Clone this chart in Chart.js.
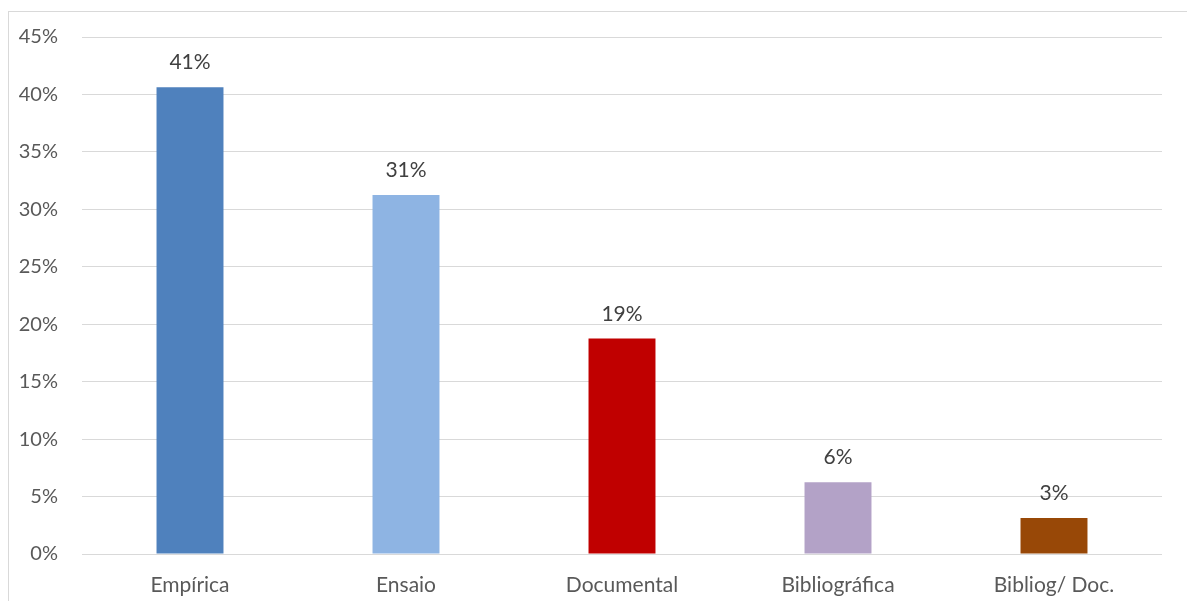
<!DOCTYPE html>
<html>
<head>
<meta charset="utf-8">
<script src="https://cdn.jsdelivr.net/npm/chart.js@4/dist/chart.umd.min.js"></script>
<style>
  html, body { margin: 0; padding: 0; background: #fff; overflow: hidden; }
  #wrap { position: relative; width: 1187px; height: 601px; }
  #frame { position: absolute; left: 8px; top: 11px; width: 1300px; height: 700px;
           border: 1px solid #d9d9d9; box-sizing: border-box; }
  canvas { position: absolute; left: 0; top: 0; }
</style>
</head>
<body>
<div id="wrap">
  <div id="frame"></div>
  <canvas id="c" width="1187" height="601"></canvas>
</div>
<script>
// Tipo de pesquisa – participação percentual
const categories = ['Empírica', 'Ensaio', 'Documental', 'Bibliográfica', 'Bibliog/ Doc.'];
const shares = [40.625, 31.25, 18.75, 6.25, 3.125];
const barColors = ['#4f81bd', '#8eb4e3', '#c00000', '#b3a2c7', '#984807'];
const yTicks = [0, 5, 10, 15, 20, 25, 30, 35, 40, 45];

const FONT = 'Lato, "Open Sans", sans-serif';
const TEXT = '#595959';

const valueLabels = {
  id: 'valueLabels',
  afterDatasetsDraw(chart) {
    const ctx = chart.ctx;
    const meta = chart.getDatasetMeta(0);
    ctx.save();
    ctx.font = '21px ' + FONT;
    ctx.fillStyle = '#404040';
    ctx.textAlign = 'center';
    ctx.textBaseline = 'alphabetic';
    meta.data.forEach((bar, i) => {
      ctx.fillText(Math.round(shares[i]) + '%', bar.x, bar.y - 18);
    });
    ctx.restore();
  }
};

new Chart(document.getElementById('c'), {
  type: 'bar',
  data: {
    labels: categories,
    datasets: [{
      data: shares,
      backgroundColor: barColors,
      borderWidth: 0,
      barPercentage: 1,
      categoryPercentage: 0.31
    }]
  },
  options: {
    responsive: false,
    animation: false,
    devicePixelRatio: 1,
    layout: { padding: { left: 0, right: 25, top: 37, bottom: 0 } },
    plugins: { legend: { display: false }, tooltip: { enabled: false } },
    scales: {
      x: {
        grid: { display: false, drawTicks: false },
        border: { display: false },
        ticks: { color: TEXT, font: { family: FONT, size: 21 }, padding: 19, maxRotation: 0 },
        afterFit(s) { s.height = 47; }
      },
      y: {
        min: 0,
        max: 45,
        afterBuildTicks(s) { s.ticks = yTicks.map(v => ({ value: v })); },
        grid: { color: '#d9d9d9', lineWidth: 1, drawTicks: false },
        border: { display: false },
        ticks: {
          color: TEXT,
          font: { family: FONT, size: 20 },
          padding: 24,
          callback: v => v + '%'
        },
        afterFit(s) { s.width = 82; }
      }
    }
  },
  plugins: [valueLabels]
});
</script>
</body>
</html>
